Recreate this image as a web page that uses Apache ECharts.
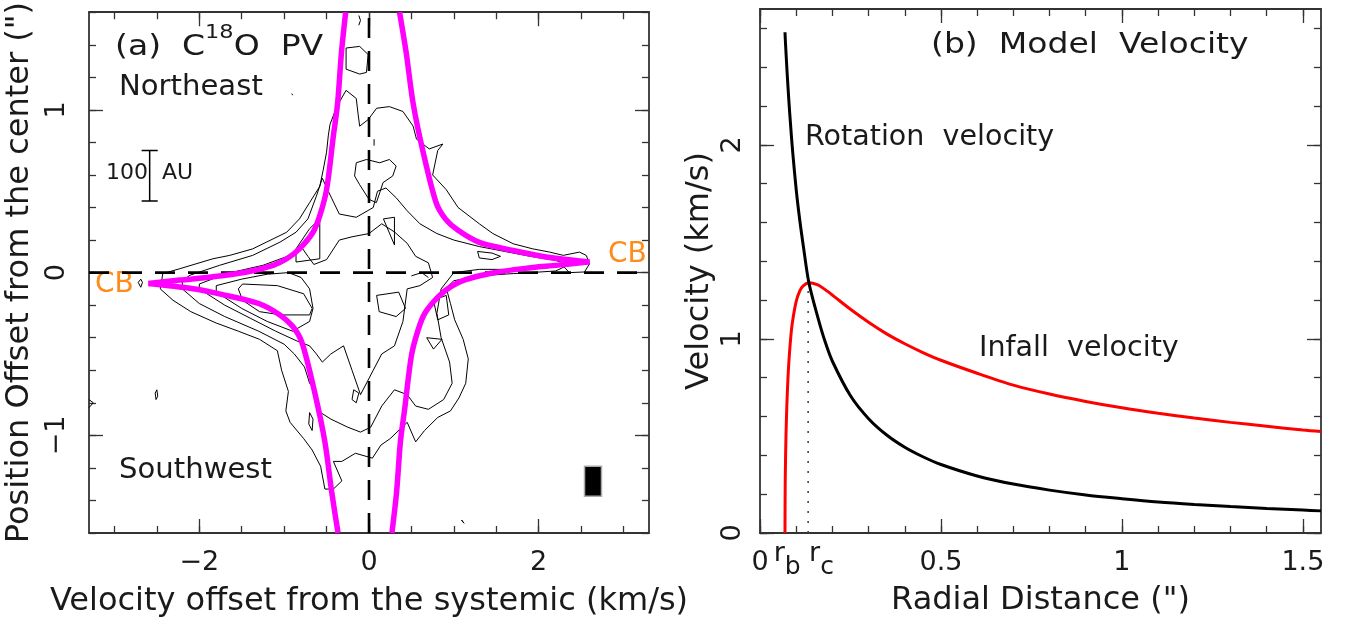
<!DOCTYPE html>
<html>
<head>
<meta charset="utf-8">
<title>C18O PV diagram and model velocity</title>
<script src="https://cdn.jsdelivr.net/npm/echarts@6/dist/echarts.min.js"></script>
<style>
  html, body { margin: 0; padding: 0; background: #fff; }
  #chart { width: 1352px; height: 624px; }
</style>
</head>
<body>
<div id="chart"></div>
<script>
// ---------- panel (a): PV diagram ----------
const velTicks = [-3, -2.5, -2, -1.5, -1, -0.5, 0, 0.5, 1, 1.5, 2, 2.5, 3];
const velMajor = [-2, 0, 2];
const posTicks = [-1.6, -1.4, -1.2, -1, -0.8, -0.6, -0.4, -0.2, 0, 0.2, 0.4, 0.6, 0.8, 1, 1.2, 1.4, 1.6];
const posMajor = [-1, 0, 1];

// contours: [velocity (km/s), offset (")]
const contour1 = [[-2.46,-0.1],[-2.43,-0.006],[-2.23,0.024],[-1.84,0.085],[-1.64,0.106],[-1.37,0.146],
  [-1.21,0.187],[-0.97,0.248],[-0.82,0.33],[-0.7,0.43],[-0.58,0.53],[-0.54,0.63],[-0.5,0.74],[-0.48,0.84],
  [-0.46,0.91],[-0.38,1.02],[-0.27,1.12],[-0.15,1.07],[-0.13,0.98],[-0.11,0.9],[-0.01,0.94],[0.09,1.01],
  [0.24,1.02],[0.4,0.99],[0.52,0.9],[0.56,0.82],[0.71,0.76],[0.87,0.79],[0.81,0.75],[0.75,0.6],[0.91,0.51],
  [1.05,0.4],[1.3,0.3],[1.46,0.24],[1.7,0.177],[1.93,0.146],[2.13,0.126],[2.29,0.106],[2.48,0.126],
  [2.56,0.106],[2.6,0.055],[2.54,0.004],[2.36,0.0],[2.3,0.035],[2.2,0.01],[1.9,0.0],[1.7,-0.006],
  [1.3,-0.02],[1.0,-0.05],[0.91,-0.094],[0.96,-0.19],[1.01,-0.29],[1.11,-0.41],[1.17,-0.53],[1.14,-0.68],
  [1.06,-0.77],[0.96,-0.85],[0.81,-0.89],[0.655,-0.97],[0.55,-1.04],[0.45,-0.92],[0.25,-1.02],[0.14,-1.06],
  [0.04,-1.14],[-0.16,-1.11],[-0.32,-1.16],[-0.42,-1.16],[-0.32,-1.28],[-0.42,-1.33],[-0.52,-1.33],
  [-0.57,-1.19],[-0.67,-1.09],[-0.77,-1.02],[-0.93,-0.92],[-0.98,-0.85],[-0.95,-0.73],[-1.03,-0.6],
  [-1.08,-0.48],[-1.29,-0.41],[-1.54,-0.36],[-1.8,-0.31],[-2.1,-0.24],[-2.31,-0.17],[-2.46,-0.1]];
const contour2 = [[-2.2,-0.05],[-2.11,-0.016],[-1.76,0.045],[-1.37,0.106],[-1.05,0.187],[-0.86,0.248],
  [-0.72,0.33],[-0.62,0.47],[-0.55,0.58],[-0.48,0.5],[-0.35,0.36],[-0.15,0.34],[0.05,0.4],[0.1,0.5],
  [0.2,0.52],[0.32,0.46],[0.45,0.38],[0.6,0.3],[0.8,0.24],[1.0,0.2],[1.3,0.16],[1.6,0.13],[1.9,0.1],
  [2.2,0.075],[2.35,0.05],[2.1,0.03],[1.7,0.02],[1.3,0.02],[1.0,0.0],[0.85,-0.1],[0.8,-0.25],[0.85,-0.4],
  [0.95,-0.55],[0.98,-0.68],[0.88,-0.78],[0.7,-0.84],[0.55,-0.82],[0.45,-0.75],[0.3,-0.72],[0.15,-0.82],
  [0.02,-0.95],[-0.1,-0.98],[-0.25,-0.95],[-0.45,-0.9],[-0.6,-0.85],[-0.64,-0.72],[-0.7,-0.68],
  [-0.76,-0.58],[-0.88,-0.5],[-1.0,-0.44],[-1.3,-0.36],[-1.7,-0.27],[-2.0,-0.19],[-2.2,-0.1],[-2.2,-0.05]];
const contour3 = [[-2.0,-0.07],[-1.68,-0.006],[-1.25,0.045],[-0.93,0.106],[-0.8,0.16],[-0.72,0.1],
  [-0.65,0.05],[-0.5,0.08],[-0.35,0.2],[-0.2,0.22],[0.0,0.24],[0.15,0.3],[0.3,0.25],[0.45,0.18],[0.55,0.1],
  [0.7,0.06],[0.75,-0.03],[0.6,-0.08],[0.45,-0.1],[0.4,-0.3],[0.3,-0.45],[0.15,-0.5],[0.05,-0.6],
  [-0.1,-0.75],[-0.2,-0.6],[-0.3,-0.45],[-0.45,-0.5],[-0.55,-0.55],[-0.62,-0.5],[-0.7,-0.45],[-0.85,-0.42],
  [-1.1,-0.36],[-1.4,-0.28],[-1.7,-0.2],[-2.0,-0.1],[-2.0,-0.07]];
const contour4 = [[-1.8,-0.08],[-1.5,-0.04],[-1.2,-0.01],[-0.95,0.0],[-0.8,-0.03],[-0.7,-0.1],[-0.66,-0.22],
  [-0.7,-0.3],[-0.9,-0.36],[-1.2,-0.3],[-1.5,-0.22],[-1.8,-0.12],[-1.8,-0.08]];
const contour5 = [[-1.49,-0.07],[-1.08,-0.08],[-0.77,-0.13],[-0.67,-0.22],[-0.7,-0.26],[-1.03,-0.26],
  [-1.29,-0.24],[-1.49,-0.17],[-1.54,-0.1],[-1.49,-0.07]];
const blobs = [
  [[-0.27,1.38],[-0.11,1.39],[-0.01,1.34],[-0.03,1.23],[-0.11,1.22],[-0.27,1.25],[-0.27,1.38]],
  [[-0.15,0.675],[-0.03,0.695],[0.126,0.675],[0.24,0.695],[0.32,0.655],[0.28,0.594],[0.165,0.553],
   [0.126,0.49],[0.087,0.43],[0.0,0.45],[-0.11,0.54],[-0.17,0.594],[-0.15,0.675]],
  [[-0.86,0.146],[-0.7,0.27],[-0.58,0.33],[-0.58,0.085],[-0.86,0.065],[-0.86,0.146]],
  [[0.17,0.33],[0.3,0.34],[0.3,0.17],[0.17,0.33]],
  [[0.09,-0.14],[0.35,-0.12],[0.43,-0.22],[0.32,-0.27],[0.12,-0.24],[0.09,-0.14]],
  [[0.76,-0.17],[0.91,-0.14],[0.94,-0.26],[0.81,-0.29],[0.76,-0.17]],
  [[0.68,-0.4],[0.86,-0.41],[0.76,-0.47],[0.68,-0.4]],
  [[1.28,0.13],[1.45,0.12],[1.55,0.1],[1.45,0.08],[1.3,0.09],[1.28,0.13]],
  [[0.5,-0.02],[0.62,0.0],[0.7,-0.03]],
  [[-0.18,-0.72],[-0.12,-0.74],[-0.15,-0.8],[-0.2,-0.78],[-0.18,-0.72]],
  [[-0.7,-0.86],[-0.66,-0.9],[-0.67,-0.97],[-0.71,-0.93],[-0.7,-0.86]],
  [[-2.72,-0.06],[-2.69,-0.04],[-2.67,-0.06],[-2.69,-0.09],[-2.72,-0.06]],
  [[-2.52,-0.74],[-2.5,-0.72],[-2.49,-0.76],[-2.51,-0.78],[-2.52,-0.74]],
  [[-3.3,-0.78],[-3.25,-0.8],[-3.3,-0.83]],
  [[1.09,-1.52],[1.11,-1.51],[1.12,-1.54],[1.1,-1.55],[1.09,-1.52]],
  [[-0.91,1.1],[-0.9,1.09]],
  [[0.06,0.82],[0.06,0.78]],
  [[-0.12,1.58],[-0.1,1.55],[-0.12,1.52]]
];

// model PV curves (magenta)
const curveUR = [[2.6,0.065],[2.09,0.096],[1.7,0.136],[1.3,0.186],[1.05,0.26],[0.9,0.33],[0.79,0.431],
  [0.64,0.736],[0.52,1.04],[0.44,1.346],[0.36,1.6]];
const curveLR = [[2.6,0.067],[2.23,0.046],[1.84,0.026],[1.44,-0.004],[1.13,-0.045],[0.97,-0.085],[0.82,-0.146],
  [0.66,-0.248],[0.58,-0.35],[0.5,-0.51],[0.42,-0.84],[0.37,-1.04],[0.325,-1.35],[0.27,-1.6]];
const curveUL = [[-2.6,-0.067],[-2.23,-0.046],[-1.84,-0.026],[-1.44,0.004],[-1.13,0.045],[-0.97,0.085],
  [-0.82,0.146],[-0.66,0.248],[-0.58,0.35],[-0.5,0.51],[-0.42,0.84],[-0.37,1.04],[-0.325,1.35],[-0.275,1.6]];
const curveLL = [[-2.6,-0.067],[-2.09,-0.098],[-1.7,-0.138],[-1.3,-0.19],[-1.05,-0.26],[-0.9,-0.33],
  [-0.79,-0.43],[-0.64,-0.736],[-0.52,-1.04],[-0.44,-1.346],[-0.365,-1.6]];

const zeroVel = [[0,-1.6],[0,1.6]];
const zeroPos = [[-3.3,0],[3.3,0]];
const scaleBar = [[-2.68,0.75],[-2.49,0.75],[-2.585,0.75],[-2.585,0.44],[-2.68,0.44],[-2.49,0.44]];
const beam = [[2.54,-1.19],[2.74,-1.374]];

// ---------- panel (b): model velocity ----------
const radTicks = [0, 0.1, 0.2, 0.3, 0.4, 0.5, 0.6, 0.7, 0.8, 0.9, 1, 1.1, 1.2, 1.3, 1.4, 1.5];
const radMajor = [0, 0.5, 1, 1.5];
const radLabelAt = [0, 0.075, 0.17, 0.5, 1, 1.5];
const radLabelText = ['0', '{r|r}{s|b}', '{r|r}{s|c}', '0.5', '1', '1.5'];
const vTicks = [0, 0.2, 0.4, 0.6, 0.8, 1, 1.2, 1.4, 1.6, 1.8, 2, 2.2, 2.4, 2.6];
const vMajor = [0, 1, 2];

const rRot = [0.069, 0.07, 0.072, 0.075, 0.08, 0.085, 0.09, 0.1, 0.11, 0.12, 0.135, 0.16, 0.18, 0.2, 0.25,
  0.3, 0.35, 0.4, 0.45, 0.5, 0.6, 0.7, 0.8, 0.9, 1.0, 1.1, 1.2, 1.3, 1.4, 1.5, 1.55];
const vRot = [2.58, 2.54, 2.47, 2.37, 2.22, 2.09, 1.97, 1.77, 1.61, 1.475, 1.29, 1.11, 0.985, 0.885, 0.707,
  0.589, 0.505, 0.442, 0.393, 0.353, 0.294, 0.252, 0.221, 0.196, 0.177, 0.16, 0.147, 0.136, 0.126, 0.118, 0.114];
const rIn = [0.069, 0.0695, 0.07, 0.071, 0.072, 0.074, 0.077, 0.08, 0.085, 0.09, 0.1, 0.11, 0.12, 0.135,
  0.16, 0.18, 0.2, 0.25, 0.3, 0.35, 0.4, 0.45, 0.5, 0.6, 0.7, 0.8, 0.9, 1.0, 1.1, 1.2, 1.3, 1.4, 1.5, 1.55];
const vIn = [0, 0.218, 0.306, 0.427, 0.516, 0.648, 0.787, 0.888, 1.009, 1.091, 1.193, 1.248, 1.275, 1.29,
  1.278, 1.254, 1.226, 1.153, 1.086, 1.026, 0.975, 0.93, 0.89, 0.823, 0.762, 0.716, 0.678, 0.645, 0.617,
  0.592, 0.57, 0.55, 0.531, 0.523];
const rcLine = [[0.133, 0], [0.133, 1.29]];

// ---------- styling ----------
const INK = '#1a1a1a';
const FRAME = '#333';
const FONT = 'DejaVu Sans';
const MAGENTA = '#ff00ff';
const ORANGE = '#ff8c1a';

function num(v) {
  return v < 0 ? '\u2212' + (-v) : String(v);
}

function ax(grid, pos, min, max, ticks, len, line, label, extra) {
  const a = {
    type: 'value', gridIndex: grid, position: pos, min: min, max: max,
    axisLine: { show: line, onZero: false, lineStyle: { color: FRAME, width: 1.8 } },
    axisTick: { show: true, inside: true, length: len, customValues: ticks, lineStyle: { color: FRAME, width: 1.3 } },
    axisLabel: label || { show: false },
    splitLine: { show: false }
  };
  return Object.assign(a, extra || {});
}

const tickFont = { color: INK, fontFamily: FONT, fontSize: 27 };
const nameFont = { color: INK, fontFamily: FONT, fontSize: 32, verticalAlign: 'middle' };

const xAxes = [
  ax(0, 'bottom', -3.3, 3.3, velMajor, 14, true,
    Object.assign({ show: true, customValues: velMajor, formatter: num, margin: 30, verticalAlign: 'middle' }, tickFont),
    { name: 'Velocity offset from the systemic (km/s)', nameLocation: 'middle', nameGap: 69, nameTextStyle: nameFont }),
  ax(0, 'bottom', -3.3, 3.3, velTicks, 7, false),
  ax(0, 'top', -3.3, 3.3, velMajor, 14, true),
  ax(0, 'top', -3.3, 3.3, velTicks, 7, false),
  ax(1, 'bottom', 0, 1.55, radMajor, 14, true,
    Object.assign({
      show: true, customValues: radLabelAt, margin: 30, verticalAlign: 'middle',
      formatter: function (v) { return radLabelText[radLabelAt.indexOf(v)]; },
      rich: {
        r: { color: INK, fontFamily: FONT, fontSize: 27, padding: [0, 0, 18, 0] },
        s: { color: INK, fontFamily: FONT, fontSize: 25, padding: [8, 0, 0, 0] }
      }
    }, tickFont),
    { name: 'Radial Distance (")', nameLocation: 'middle', nameGap: 68, nameTextStyle: nameFont }),
  ax(1, 'bottom', 0, 1.55, radTicks, 7, false),
  ax(1, 'top', 0, 1.55, radMajor, 14, true),
  ax(1, 'top', 0, 1.55, radTicks, 7, false)
];

const yAxes = [
  ax(0, 'left', -1.6, 1.6, posMajor, 14, true,
    Object.assign({ show: true, customValues: posMajor, formatter: num, rotate: 90, margin: 32, align: 'center', verticalAlign: 'middle' }, tickFont),
    { name: 'Position Offset from the center (")', nameLocation: 'middle', nameGap: 69, nameTextStyle: nameFont }),
  ax(0, 'left', -1.6, 1.6, posTicks, 7, false),
  ax(0, 'right', -1.6, 1.6, posMajor, 14, true),
  ax(0, 'right', -1.6, 1.6, posTicks, 7, false),
  ax(1, 'left', 0, 2.7, vMajor, 14, true,
    Object.assign({ show: true, customValues: vMajor, formatter: num, rotate: 90, margin: 27, align: 'center', verticalAlign: 'middle' }, tickFont),
    { name: 'Velocity (km/s)', nameLocation: 'middle', nameGap: 60, nameTextStyle: nameFont }),
  ax(1, 'left', 0, 2.7, vTicks, 7, false),
  ax(1, 'right', 0, 2.7, vMajor, 14, true),
  ax(1, 'right', 0, 2.7, vTicks, 7, false)
];

function lineA(data, color, width, extra) {
  return Object.assign({
    type: 'line', xAxisIndex: 0, yAxisIndex: 0, data: data, symbol: 'none', silent: true,
    lineStyle: { color: color, width: width }
  }, extra || {});
}
function lineB(data, color, width, extra) {
  return Object.assign({
    type: 'line', xAxisIndex: 4, yAxisIndex: 4, data: data, symbol: 'none', silent: true,
    lineStyle: { color: color, width: width }
  }, extra || {});
}

const series = [];
[contour1, contour2, contour3, contour4, contour5].concat(blobs).forEach(function (c) {
  series.push(lineA(c, '#000', 1));
});
series.push(lineA(zeroPos, '#000', 2.6, {
  lineStyle: { color: '#000', width: 2.6, type: [20, 13] },
  markArea: {
    silent: true,
    itemStyle: { color: '#000', borderColor: '#aaa', borderWidth: 1.5 },
    data: [[{ coord: beam[0] }, { coord: beam[1] }]]
  }
}));
series.push(lineA(zeroVel, '#000', 2.6, { lineStyle: { color: '#000', width: 2.6, type: [20, 13] } }));
series.push(lineA(scaleBar, '#000', 1.5));
[curveUR, curveLR, curveUL, curveLL].forEach(function (c) {
  series.push(lineA(c, MAGENTA, 5.5, { smooth: 0.3 }));
});

series.push(lineB(rcLine, '#444', 1.6, { lineStyle: { color: '#444', width: 1.6, type: [2, 8] } }));
series.push(lineB(rIn.map(function (r, i) { return [r, vIn[i]]; }), '#ff0000', 3, { smooth: 0.3 }));
series.push(lineB(rRot.map(function (r, i) { return [r, vRot[i]]; }), '#000', 3, { smooth: 0.3 }));

function txt(x, y, s, size, color, sx, rich, align) {
  return {
    type: 'text', x: x, y: y, scaleX: sx || 1, silent: true,
    style: {
      text: s, fill: color, font: size + 'px "' + FONT + '"',
      align: align || 'left', verticalAlign: 'middle', rich: rich
    }
  };
}

const chart = echarts.init(document.getElementById('chart'), null, { renderer: 'canvas' });
chart.setOption({
  animation: false,
  backgroundColor: '#fff',
  grid: [
    { left: 89, top: 9, width: 560, height: 524 },
    { left: 760, top: 9, width: 561, height: 524 }
  ],
  xAxis: xAxes,
  yAxis: yAxes,
  series: series,
  graphic: [
    txt(115, 48, '(a)  C{sup|18}O  PV', 28, INK, 1.18, {
      sup: { fontSize: 19, fontFamily: FONT, fill: INK, padding: [0, 0, 30, 0] }
    }),
    txt(119, 88, 'Northeast', 28, INK, 1.04),
    txt(119, 471, 'Southwest', 28, INK, 1.04),
    txt(148, 173, '100', 22, INK, 1, null, 'right'),
    txt(162, 173, 'AU', 22, INK),
    txt(95, 285, 'CB', 28, ORANGE),
    txt(608, 255, 'CB', 28, ORANGE),
    txt(931, 46, '(b)  Model  Velocity', 28, INK, 1.18),
    txt(805, 138, 'Rotation  velocity', 28, INK, 1.02),
    txt(979, 349, 'Infall  velocity', 28, INK, 1.02)
  ]
});
</script>
</body>
</html>
